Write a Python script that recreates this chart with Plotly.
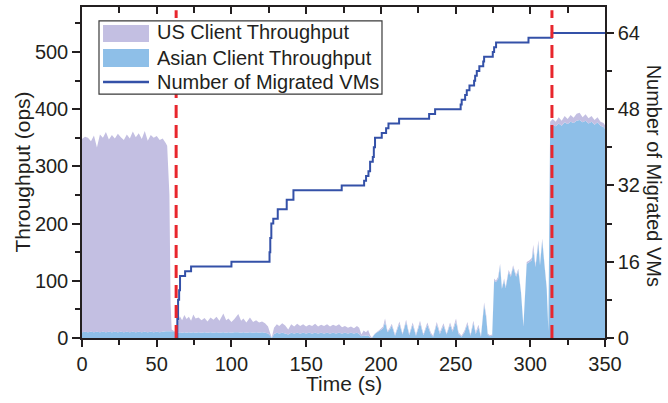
import plotly.graph_objects as go

# Sample times (s) and per-client throughput (ops); the two areas are stacked
time_s = [
    0, 2, 4, 6, 8, 10, 12, 14, 16, 18, 20, 22, 24, 26, 28, 30, 32, 34, 36, 38,
    40, 42, 44, 46, 48, 50, 52, 54, 56, 57, 58.5, 59.3, 60, 61, 62, 63,
    64, 65.5, 67, 68.5, 70, 71.5, 73, 74.5, 76, 78, 80, 82, 84, 86, 88, 90, 92,
    94.6, 96.5, 98, 100, 102, 104.6, 106.5, 108, 110, 112.4, 114.5, 116.5,
    118.5, 120.5, 122.5, 124.5, 126, 127, 128.5, 130.4, 132, 134, 136, 138,
    140, 142, 144, 146, 148, 150, 152, 154, 156, 158, 160, 162, 164, 166, 168,
    170, 172, 174, 176, 178, 180, 182, 184, 185.5, 187, 188.5, 190, 191.5, 193,
    194, 196, 198, 200, 201.5, 202.8, 204.5, 206, 207.3, 209.5, 212.4, 214.5,
    216.9, 219, 221.3, 223.5, 226.2, 228.5, 231.1, 233.5, 235, 237.4, 239.5,
    241.9, 244, 246.3, 248, 250.3, 252, 254, 256, 257.9, 260, 261.9, 263.5,
    265.3, 267, 269.1, 270.5, 271.5, 273, 274.5, 275.8, 277, 278.5, 279.8, 281,
    282.5, 283.5, 285.5, 287, 288.5, 290.5, 292, 293.8, 295.4, 297.6, 299.5,
    301, 302, 303.5, 305.4, 306.5, 308, 309.5, 311, 312.1, 313.3, 315, 317,
    319, 321, 323, 325, 327, 329, 331, 333, 335, 337, 339, 341, 343, 345, 347,
    349, 350,
]

asian_ops = [
    10, 11, 10, 11, 10, 11, 10, 11, 10, 11, 10, 11, 10, 11, 10, 11, 10, 11, 10, 11,
    10, 11, 10, 11, 10, 11, 10, 11, 12, 12, 12, 12, 12, 12, 11, 5,
    9, 10, 9, 10, 9, 10, 9, 10, 9, 10, 9, 10, 9, 10, 9, 10, 9,
    10, 9, 10, 9, 10, 10, 9, 10, 9, 10, 9, 10,
    9, 10, 9, 8, 4, 0, 7, 9, 8, 9, 8, 6,
    9, 8, 9, 8, 9, 8, 9, 8, 9, 8, 9, 8, 9, 8, 9,
    8, 9, 8, 9, 8, 9, 8, 9, 7, 3, 5, 4, 5, 1,
    0, 7, 11, 14, 17, 28, 10, 15, 22, 4, 25, 6,
    28, 5, 23, 4, 26, 5, 23, 6, 2, 24, 7,
    22, 6, 23, 11, 29, 7, 2, 10, 24, 4, 26, 7,
    19, 2, 58, 36, 6, 3, 4, 100, 98, 103, 127, 86,
    101, 87, 116, 107, 124, 107, 118, 79, 20, 130, 133,
    136, 154, 124, 166, 127, 170, 127, 86, 12, 370, 372, 370,
    375, 371, 377, 374, 378, 376, 380, 381, 377, 380, 375, 378, 373, 377, 371,
    369, 366,
]

us_ops = [
    338, 341, 340, 333, 344, 322, 346, 339, 350, 336, 345, 338, 347, 340, 336, 345, 339, 350, 341, 347,
    338, 351, 335, 344, 340, 342, 336, 338, 329, 324, 238, 48, 3, 1, 1, 1,
    19, 28, 22, 30, 24, 27, 21, 31, 25, 26, 22, 25, 20, 26, 23, 27, 21,
    33, 22, 24, 19, 23, 32, 21, 24, 18, 26, 19, 21,
    18, 19, 17, 12, 4, 1, 11, 15, 13, 17, 14, 9,
    15, 12, 16, 13, 15, 12, 14, 13, 16, 12, 14, 13, 15, 12, 14,
    13, 15, 11, 12, 10, 11, 9, 12, 11, 3, 8, 6, 9, 3,
    1, 1, 1, 2, 3, 6, 2, 3, 3, 2, 4, 2,
    4, 2, 4, 2, 4, 2, 4, 3, 2, 4, 3,
    4, 2, 4, 3, 5, 3, 2, 3, 4, 2, 4, 3,
    4, 2, 4, 4, 2, 2, 2, 4, 2, 4, 3, 2,
    3, 2, 3, 3, 3, 3, 3, 2, 2, 3, 3,
    4, 9, 3, 5, 3, 4, 3, 3, 2, 8, 11, 8,
    11, 9, 11, 9, 12, 9, 12, 13, 9, 11, 9, 10, 8, 9, 7,
    7, 6,
]

# Cumulative count of migrated VMs (step changes)
vm_time_s = [
    0, 63.3, 63.8, 64.3, 65.0, 65.6, 69.0, 73.0, 100.0, 125.5, 126.0, 126.7,
    128.0, 131.0, 137.0, 141.5, 173.8, 188.8, 190.1, 191.7, 192.8, 194.6,
    195.3, 196.1, 200.6, 203.5, 205.1, 212.2, 232.3, 236.3, 253.4, 254.1,
    256.4, 257.5, 259.3, 262.4, 263.1, 264.2, 265.9, 268.5, 269.1, 274.9,
    275.8, 277.1, 298.8, 314.4, 350,
]
vm_count = [
    None, 0, 4, 8, 10, 13, 14, 15, 16, 18, 21, 24,
    25, 27, 29, 31, 32, 33, 34, 35, 37, 38,
    40, 42, 43, 44, 45, 46, 47, 48, 49, 50,
    51, 52, 53, 54, 55, 56, 57, 58, 59, 60,
    61, 62, 63, 64, 64,
]

# Start and end of the migration phase (s)
migration_marks_s = [63, 314.5]

US_FILL = "#c3bfe2"
ASIA_FILL = "#8ebfe8"
VM_LINE = "#3451a8"
MARK_RED = "#e8262d"
INK = "#231f20"
FONT = "Liberation Sans, Arial, Helvetica, sans-serif"

fig = go.Figure()
fig.add_trace(go.Scatter(
    x=time_s, y=asian_ops, stackgroup="throughput", mode="none",
    fillcolor=ASIA_FILL, name="Asian Client Throughput", showlegend=False,
))
fig.add_trace(go.Scatter(
    x=time_s, y=us_ops, stackgroup="throughput", mode="none",
    fillcolor=US_FILL, name="US Client Throughput", showlegend=False,
))
fig.add_trace(go.Scatter(
    x=vm_time_s, y=vm_count, xaxis="x2", yaxis="y2", mode="lines",
    line=dict(color=VM_LINE, width=2, shape="hv"),
    name="Number of Migrated VMs", showlegend=False,
))

tick_font = dict(family=FONT, size=20, color=INK)
common = dict(showgrid=False, zeroline=False, showline=True, linecolor=INK,
              linewidth=1.5, tickcolor=INK, tickwidth=1.5, tickfont=tick_font)

fig.update_layout(
    width=668, height=403,
    margin=dict(l=82, r=63, t=7, b=65),
    plot_bgcolor="white", paper_bgcolor="white",
    font=dict(family=FONT, color=INK),
    xaxis=dict(range=[0, 350], tick0=0, dtick=50, ticks="outside", ticklen=7,
               minor=dict(dtick=25, ticks="outside", ticklen=5,
                          tickcolor=INK, tickwidth=1.5),
               **common),
    xaxis2=dict(range=[0, 350], overlaying="x", side="top", anchor="y2",
                tick0=0, dtick=50, ticks="inside", ticklen=7,
                showticklabels=False,
                minor=dict(dtick=25, ticks="inside", ticklen=6,
                           tickcolor=INK, tickwidth=1.5),
                **common),
    yaxis=dict(range=[0, 578.7], tick0=0, dtick=100, ticks="outside", ticklen=8,
               minor=dict(dtick=50, ticks="outside", ticklen=5,
                          tickcolor=INK, tickwidth=1.5),
               **common),
    yaxis2=dict(range=[0, 69.45], overlaying="y", side="right", anchor="x2",
                tick0=0, dtick=16, ticks="outside", ticklen=7,
                minor=dict(dtick=8, ticks="outside", ticklen=5,
                           tickcolor=INK, tickwidth=1.5),
                **common),
)

# Migration start/end markers
for t in migration_marks_s:
    fig.add_shape(type="line", xref="x", yref="paper", x0=t, x1=t, y0=0, y1=0.99,
                  line=dict(color=MARK_RED, width=3, dash="13px,7px"), layer="above")

# Legend box drawn by hand so the swatches can be wide blocks
fig.add_shape(type="rect", xref="paper", yref="paper",
              x0=0.0325, x1=0.5736, y0=0.737, y1=0.958,
              line=dict(color="#3a3a3a", width=1.2), fillcolor="white", layer="above")
fig.add_shape(type="rect", xref="paper", yref="paper",
              x0=0.0402, x1=0.1281, y0=0.894, y1=0.9456,
              line=dict(width=0), fillcolor=US_FILL, layer="above")
fig.add_shape(type="rect", xref="paper", yref="paper",
              x0=0.0402, x1=0.1281, y0=0.8187, y1=0.8731,
              line=dict(width=0), fillcolor=ASIA_FILL, layer="above")
fig.add_shape(type="line", xref="paper", yref="paper",
              x0=0.0402, x1=0.1281, y0=0.7734, y1=0.7734,
              line=dict(color=VM_LINE, width=2.5), layer="above")

legend_rows = [("US Client Throughput", 0.923),
               ("Asian Client Throughput", 0.8456),
               ("Number of Migrated VMs", 0.7722)]
for label, ypos in legend_rows:
    fig.add_annotation(text=label, xref="paper", yref="paper", x=0.1396, y=ypos,
                       xanchor="left", yanchor="middle", showarrow=False,
                       font=dict(family=FONT, size=20, color=INK))

# Axis titles
title_font = dict(family=FONT, size=21, color=INK)
fig.add_annotation(text="Time (s)", xref="paper", yref="paper", x=0.5, y=-0.136,
                   xanchor="center", yanchor="middle", showarrow=False, font=title_font)
fig.add_annotation(text="Throughput (ops)", xref="paper", yref="paper", x=-0.1147, y=0.5,
                   xanchor="center", yanchor="middle", textangle=-90, showarrow=False,
                   font=title_font)
fig.add_annotation(text="Number of Migrated VMs", xref="paper", yref="paper", x=1.094,
                   y=0.49, xanchor="center", yanchor="middle", textangle=90,
                   showarrow=False, font=dict(family=FONT, size=20, color=INK))

fig.write_html("out.html")
